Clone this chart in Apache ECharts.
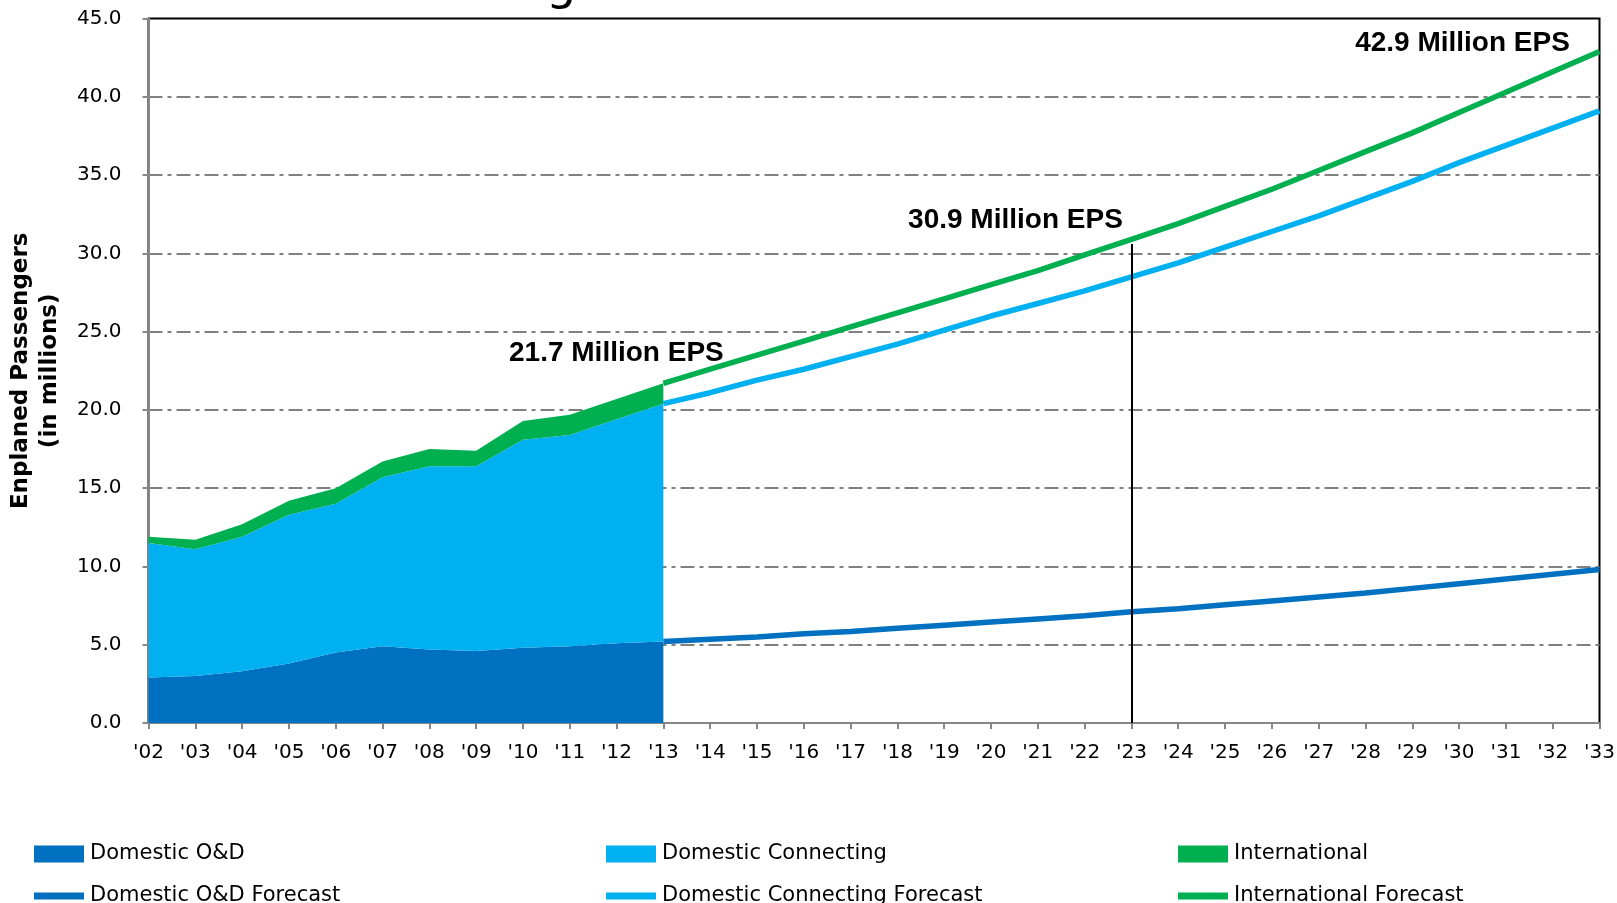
<!DOCTYPE html>
<html>
<head>
<meta charset="utf-8">
<script src="https://cdn.jsdelivr.net/npm/echarts@6/dist/echarts.min.js"></script>
<style>
  html, body { margin: 0; padding: 0; background: #fff; }
  #chart { width: 1617px; height: 903px; }
</style>
</head>
<body>
<div id="chart"></div>
<script>
// tick labels for the years 2002 - 2033
var years = ["'02", "'03", "'04", "'05", "'06", "'07", "'08", "'09", "'10", "'11", "'12", "'13",
             "'14", "'15", "'16", "'17", "'18", "'19", "'20", "'21", "'22", "'23",
             "'24", "'25", "'26", "'27", "'28", "'29", "'30", "'31", "'32", "'33"];

// historical, stacked ('02 - '13), millions
var odHist   = [2.9, 3.0, 3.3, 3.8, 4.5, 4.9, 4.7, 4.6, 4.8, 4.9, 5.1, 5.2];
var dcHist   = [8.6, 8.1, 8.6, 9.5, 9.5, 10.8, 11.7, 11.8, 13.3, 13.5, 14.3, 15.2];
var intlHist = [0.4, 0.6, 0.8, 0.9, 1.0, 1.0, 1.1, 1.0, 1.2, 1.3, 1.3, 1.3];

// forecast ('13 - '33), cumulative as drawn
var odFc   = [5.2, 5.35, 5.5, 5.7, 5.85, 6.05, 6.25, 6.45, 6.65, 6.85, 7.1,
              7.3, 7.55, 7.8, 8.05, 8.3, 8.6, 8.9, 9.2, 9.5, 9.8];
var dcFc   = [20.4, 21.1, 21.9, 22.6, 23.4, 24.2, 25.1, 26.0, 26.8, 27.6, 28.5,
              29.4, 30.4, 31.4, 32.4, 33.5, 34.6, 35.8, 36.9, 38.0, 39.1];
var intlFc = [21.7, 22.6, 23.5, 24.4, 25.3, 26.2, 27.1, 28.0, 28.9, 29.9, 30.9,
              31.9, 33.0, 34.1, 35.3, 36.5, 37.7, 39.0, 40.3, 41.6, 42.9];

// total EPS callouts
var calloutYears  = ["'13", "'23", "'33"];
var calloutTotals = [21.7, 30.9, 42.9];
var calloutOffsets = [[-47, -30], [-116, -19], [-137, -8]];

var yTicks = [0, 5, 10, 15, 20, 25, 30, 35, 40, 45];

var DARK = '#0070C0', LIGHT = '#00B0F0', GREEN = '#00B050';

function padFc(arr) {
  var out = [];
  for (var i = 0; i < years.length - arr.length; i++) out.push('-');
  return out.concat(arr);
}
function padHist(arr) {
  var out = arr.slice();
  while (out.length < years.length) out.push('-');
  return out;
}

var chart = echarts.init(document.getElementById('chart'));

function areaSeries(name, data, color) {
  return {
    name: name, type: 'line', stack: 'hist', data: padHist(data),
    symbol: 'none', lineStyle: { width: 0 },
    areaStyle: { color: color, opacity: 1 }, itemStyle: { color: color },
    silent: true, z: 2
  };
}
function fcSeries(name, data, color) {
  return {
    name: name, type: 'line', data: padFc(data), symbol: 'none',
    lineStyle: { width: 5.5, color: color }, itemStyle: { color: color },
    silent: true, z: 3
  };
}

var callouts = calloutYears.map(function (y, i) {
  return {
    coord: [y, calloutTotals[i]],
    label: { formatter: calloutTotals[i].toFixed(1) + ' Million EPS', offset: calloutOffsets[i] }
  };
});

var intlForecast = fcSeries('International Forecast', intlFc, GREEN);
intlForecast.markPoint = {
  symbol: 'circle', symbolSize: 0, silent: true,
  label: { show: true, color: '#000', fontFamily: 'Liberation Sans', fontWeight: 'bold', fontSize: 28 },
  data: callouts
};
intlForecast.markLine = {
  symbol: 'none', silent: true, z: 5,
  lineStyle: { color: '#000', width: 2, type: 'solid' },
  label: { show: false },
  data: [[{ coord: ["'23", 0] }, { coord: ["'23", 30.6] }]]
};

function legendAt(name, left, top, h) {
  return {
    data: [{ name: name, icon: 'rect' }], left: left, top: top, padding: 0,
    itemWidth: 50, itemHeight: h, itemGap: 6, selectedMode: false,
    textStyle: { fontFamily: 'DejaVu Sans', fontSize: 21, color: '#000', lineHeight: 22, padding: [0, 0, 0, 1] }
  };
}

var option = {
  animation: false,
  backgroundColor: '#fff',
  grid: {
    left: 148.5, right: 17.5, top: 18.6, bottom: 180,
    outerBoundsMode: 'none', containLabel: false,
    show: true, borderColor: '#000', borderWidth: 2
  },
  graphic: [{
    type: 'text', left: 546, top: -37,
    style: { text: 'g', fontFamily: 'DejaVu Sans', fontSize: 48, fill: '#000' }
  }],
  legend: [
    legendAt('Domestic O&D', 34, 843, 17),
    legendAt('Domestic Connecting', 606, 843, 17),
    legendAt('International', 1178, 843, 17),
    legendAt('Domestic O&D Forecast', 34, 885, 7),
    legendAt('Domestic Connecting Forecast', 606, 885, 7),
    legendAt('International Forecast', 1178, 885, 7)
  ],
  xAxis: {
    type: 'category', data: years, boundaryGap: false,
    axisLine: { lineStyle: { color: '#868686', width: 2 } },
    axisTick: { show: true, length: 6, interval: 0, lineStyle: { color: '#868686', width: 2 } },
    axisLabel: { interval: 0, margin: 20, fontFamily: 'DejaVu Sans', fontSize: 20, color: '#000' },
    splitLine: { show: false }
  },
  yAxis: {
    type: 'value', min: 0, max: 45, interval: 5,
    name: 'Enplaned Passengers\n(in millions)', nameLocation: 'middle', nameRotate: 90, nameGap: 84,
    nameTextStyle: { fontFamily: 'DejaVu Sans', fontWeight: 'bold', fontSize: 23, color: '#000', lineHeight: 29 },
    axisLine: { show: true, lineStyle: { color: '#868686', width: 2 } },
    axisTick: { show: true, length: 6, lineStyle: { color: '#868686', width: 2 } },
    axisLabel: {
      margin: 27, fontFamily: 'DejaVu Sans', fontSize: 20, color: '#000',
      customValues: yTicks, formatter: function (v) { return v.toFixed(1); }
    },
    splitLine: {
      show: true, showMinLine: false, showMaxLine: false,
      lineStyle: { color: '#808080', width: 2, type: [14, 5, 4, 5] }
    }
  },
  series: [
    areaSeries('Domestic O&D', odHist, DARK),
    areaSeries('Domestic Connecting', dcHist, LIGHT),
    areaSeries('International', intlHist, GREEN),
    fcSeries('Domestic O&D Forecast', odFc, DARK),
    fcSeries('Domestic Connecting Forecast', dcFc, LIGHT),
    intlForecast
  ]
};

chart.setOption(option);
window.onresize = function () { chart.resize(); };
</script>
</body>
</html>
